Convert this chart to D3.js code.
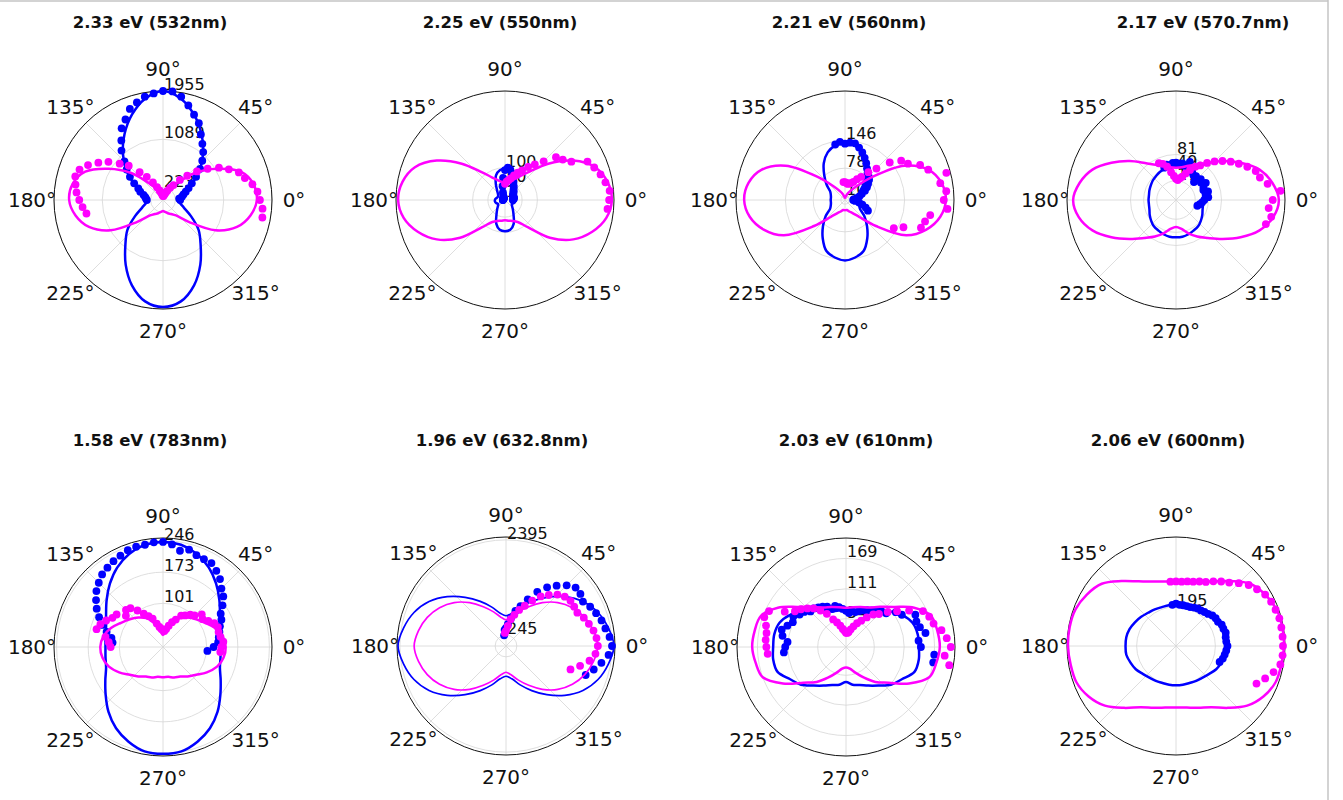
<!DOCTYPE html>
<html>
<head>
<meta charset="utf-8">
<script src="https://cdn.jsdelivr.net/npm/d3@7"></script>
<style>
  body { margin: 0; background: #fff; }
  svg { display: block; }
</style>
</head>
<body>
<svg id="chart" width="1343" height="800"></svg>
<script>
// panel titles, top row left to right, then bottom row
var titles = ["2.33 eV (532nm)", "2.25 eV (550nm)", "2.21 eV (560nm)", "2.17 eV (570.7nm)",
              "1.58 eV (783nm)", "1.96 eV (632.8nm)", "2.03 eV (610nm)", "2.06 eV (600nm)"];

// radial axis of each panel
var rTicks = [[223, 1089, 1955], [1, 50, 100], [10, 78, 146], [17, 49, 81],
              [101, 173, 246], [245, 2395], [54, 111, 169], [195]];
var rMin = [0, -6, 0, -30, 0, 0, 0, 0];
var rMax = [1955, 351, 267, 236, 252, 2460, 208, 540];

// angles (deg) of the fitted curves
var fitAngles = [0, 10, 20, 30, 40, 50, 60, 70, 80, 90, 100, 110, 120, 130, 140, 150, 160, 170,
                 180, 190, 200, 210, 220, 230, 240, 250, 260, 270, 280, 290, 300, 310, 320, 330, 340, 350];

// fitted curves, blue
var blueFit = [
  [272,326,434,615,869,1122,1376,1629,1846,1955,1846,1629,1376,1122,869,615,434,326,272,308,398,579,833,1050,1339,1629,1846,1919,1846,1629,1339,1050,833,579,398,308],
  [27,24,20,20,24,34,54,80,93,96,93,80,54,34,24,20,20,24,27,27,24,20,24,34,50,77,93,96,93,77,50,34,24,20,24,27],
  [35,35,37,42,59,79,104,124,136,141,136,124,104,79,59,42,37,35,35,35,37,42,62,84,109,133,143,148,143,133,109,84,62,42,37,35],
  [37,37,39,41,44,46,49,51,51,51,51,51,49,46,44,41,39,37,37,37,39,44,49,54,56,59,61,61,61,59,56,54,49,44,39,37],
  [133,135,140,152,170,191,212,229,240,243,240,229,212,191,170,152,140,135,133,135,140,154,173,196,217,233,245,247,245,233,217,196,173,154,140,135],
  [2437,2346,2210,2005,1731,1435,1162,934,752,683,752,934,1162,1435,1731,2005,2210,2346,2437,2346,2210,2005,1731,1435,1162,934,752,683,752,934,1162,1435,1731,2005,2210,2346],
  [139,139,135,123,106,91,81,73,71,71,71,73,81,91,106,123,135,139,139,141,139,123,112,96,85,77,73,67,73,77,85,96,112,123,139,141],
  [250,250,245,235,225,215,210,205,205,205,205,205,210,215,225,235,245,250,250,250,240,230,215,205,200,195,195,195,195,195,200,205,215,230,240,250]
];

// fitted curves, magenta
var magFit = [
  [1683,1647,1484,1122,760,398,217,127,72,54,72,127,217,398,760,1122,1484,1647,1683,1593,1412,1086,615,362,290,253,217,199,217,253,290,362,615,1086,1412,1593],
  [344,335,308,252,179,113,80,63,54,50,54,63,80,113,179,252,308,335,344,331,298,252,186,110,77,67,63,60,63,67,77,110,186,252,298,331],
  [247,240,217,168,89,44,25,15,7,5,7,15,25,44,89,168,217,240,247,237,212,173,99,54,37,30,25,25,25,30,37,54,99,173,212,237],
  [221,209,187,152,118,88,69,59,51,49,51,59,69,88,118,152,187,209,221,211,187,152,118,91,73,56,41,36,41,56,73,91,118,152,187,211],
  [145,140,128,112,100,89,77,58,37,28,37,58,77,89,100,112,128,140,145,142,133,117,100,89,79,75,70,70,70,75,79,89,100,117,133,142],
  [2073,2005,1891,1731,1526,1276,1025,820,661,592,661,820,1025,1276,1526,1731,1891,2005,2073,2005,1891,1731,1526,1276,1025,820,661,592,661,820,1025,1276,1526,1731,1891,2005],
  [179,177,173,150,119,100,87,81,77,75,77,81,87,100,119,150,173,177,179,175,169,139,106,87,67,52,42,39,42,52,67,87,106,139,169,175],
  [535,535,530,510,480,420,370,340,325,320,325,340,370,420,480,510,530,535,535,530,525,500,460,400,350,325,310,305,310,325,350,400,460,500,525,530]
];

// measured points, every 5 deg from the start angle
var dotStep = 5;
var blueStart = [0, 0, -25, -15, -5, -20, -10, -20];
var magStart = [-10, -5, -30, -15, -5, -20, -10, -25];

var blueDots = [
  [308,290,344,380,434,507,597,724,869,996,1122,1231,1358,1520,1629,1756,1882,1955,1955,1919,1882,1810,1738,1593,1484,1303,1158,977,851,724,597,489,434,362,326,308,290],
  [20,20,24,24,24,24,24,27,30,34,37,44,50,60,73,83,95,100,92,67,40,20,11,4,1,1,1,1,1,1,1,1,1,1,1,1,1],
  [62,54,44,35,25,20,22,30,37,44,54,62,69,77,82,86,94,104,114,124,133,141,141,138,143,138],
  [24,29,34,39,49,44,51,41,44,54,44,49,32,46,44,49,54,69,56,61,59,61,61,56,59,54],
  [103,117,128,131,135,140,149,154,168,182,191,205,215,224,224,226,233,226,238,243,243,240,240,238,233,229,224,219,210,201,189,177,163,149,135,121,117],
  [1914,2050,2187,2324,2392,2346,2278,2232,2164,2096,2005,2050,2050,1936,1777,1617,1412,1162,957,820,638,501,410,364,245],
  [169,169,143,139,154,146,143,146,123,116,100,96,92,85,81,77,73,69,69,65,69,73,77,81,77,85,89,92,96,96,104,108,116,112,119,127,123,112,116,119],
  [230,240,245,250,255,250,250,255,250,250,240,240,235,225,220,215,215,210,205,205,205,205,210,205]
];

var magDots = [
  [1810,1792,1738,1701,1629,1520,1448,1303,1158,977,796,615,471,326,253,181,145,109,91,72,72,91,109,145,181,253,362,507,652,869,1014,1195,1339,1484,1593,1629,1593,1557,1502,1448,1394],
  [331,335,338,328,318,305,292,245,225,212,173,146,126,106,93,80,67,60,54,47],
  [138,158,198,203,212,252,242,249,237,257,217,203,178,168,143,109,89,69,59,49,44,42,40,42,44,44],
  [197,206,197,206,226,197,182,177,162,147,133,118,103,88,73,64,51,39,29,24,19,22,29,39,54,64,69],
  [133,135,140,135,133,135,131,121,112,117,103,98,89,84,70,61,51,42,37,40,42,47,56,70,79,89,103,117,121,112,131,135,145,154,159,135,126,121],
  [1549,1731,1914,2027,2073,2050,2005,1936,1868,1777,1777,1777,1731,1640,1503,1367,1185,1002,866,729,615,456,342,296],
  [200,189,200,193,185,173,169,162,139,119,104,89,81,69,58,50,42,35,29,27,27,31,35,42,50,58,73,85,96,104,112,119,135,162,166,158,154,154,152,150],
  [440,470,500,525,530,530,530,530,530,525,520,510,490,470,440,410,390,370,350,340,330,325,320,320,320]
];

// layout
var centerX = [163, 505, 845, 1176, 163, 506, 846, 1176];
var centerY = [200, 200, 200, 200, 647, 646, 647, 646];
var titleX = [150, 500, 849, 1203, 150, 502, 856, 1168];
var titleY = [22, 22, 22, 22, 440, 440, 440, 440];
var lineW = [2.5, 2.5, 2.5, 2.5, 2.5, 1.7, 2.5, 2.5];
var R = 109;
var spokes = [0, 45, 90, 135, 180, 225, 270, 315];
var BLUE = "#0000ff", MAGENTA = "#ff00ff";

var svg = d3.select("#chart");
var rad = Math.PI / 180;

// frame of the original picture
svg.append("line").attr("x1", 0).attr("x2", 1328).attr("y1", 1).attr("y2", 1)
    .attr("stroke", "#c4c4c4").attr("stroke-width", 1.5);
svg.append("line").attr("x1", 1328).attr("x2", 1328).attr("y1", 0).attr("y2", 800)
    .attr("stroke", "#c4c4c4").attr("stroke-width", 1.5);

titles.forEach(function(title, i) {

    svg.append("text")
        .attr("x", titleX[i])
        .attr("y", titleY[i])
        .attr("text-anchor", "middle")
        .attr("dominant-baseline", "central")
        .attr("font-family", "DejaVu Sans")
        .attr("font-weight", "bold")
        .attr("font-size", "16.5px")
        .attr("fill", "#111")
        .text(title);

    var g = svg.append("g")
        .attr("transform", "translate(" + centerX[i] + "," + centerY[i] + ")");

    var r = d3.scaleLinear().domain([rMin[i], rMax[i]]).range([0, R]);

    // grid
    g.selectAll("line.spoke")
        .data(spokes)
        .enter()
        .append("line")
        .attr("x1", 0).attr("y1", 0)
        .attr("x2", function(d) { return R * Math.cos(d * rad); })
        .attr("y2", function(d) { return -R * Math.sin(d * rad); })
        .attr("stroke", "#d6d6d6")
        .attr("stroke-width", 0.8);

    g.selectAll("circle.grid")
        .data(rTicks[i])
        .enter()
        .append("circle")
        .attr("r", function(d) { return r(d); })
        .attr("fill", "none")
        .attr("stroke", "#d6d6d6")
        .attr("stroke-width", 0.8);

    g.append("circle")
        .attr("r", R)
        .attr("fill", "none")
        .attr("stroke", "#111")
        .attr("stroke-width", 1);

    // angle labels
    g.selectAll("text.theta")
        .data(spokes)
        .enter()
        .append("text")
        .attr("x", function(d) { return (R + 22) * Math.cos(d * rad); })
        .attr("y", function(d) { return -(R + 22) * Math.sin(d * rad); })
        .attr("text-anchor", "middle")
        .attr("dominant-baseline", "central")
        .attr("font-family", "DejaVu Sans")
        .attr("font-size", "20px")
        .attr("fill", "#111")
        .text(function(d) { return d + "°"; });

    // radial labels
    g.selectAll("text.rlab")
        .data(rTicks[i])
        .enter()
        .append("text")
        .attr("x", 1)
        .attr("y", function(d) { return -r(d) - 1; })
        .attr("font-family", "DejaVu Sans")
        .attr("font-size", "16px")
        .attr("fill", "#111")
        .text(function(d) { return d; });

    var radial = d3.lineRadial()
        .angle(function(d) { return (90 - d[0]) * rad; })
        .radius(function(d) { return r(d[1]); })
        .curve(d3.curveCatmullRomClosed.alpha(0.5));

    function fitPts(vals) {
        return fitAngles.map(function(a, k) { return [a, vals[k]]; });
    }
    function dotPts(vals, start) {
        return vals.map(function(v, k) { return [start + k * dotStep, v]; });
    }

    function drawFit(vals, color) {
        g.append("path")
            .datum(fitPts(vals))
            .attr("d", radial)
            .attr("fill", "none")
            .attr("stroke", color)
            .attr("stroke-width", lineW[i]);
    }
    function drawDots(vals, start, color) {
        g.append("g").selectAll("circle")
            .data(dotPts(vals, start))
            .enter()
            .append("circle")
            .attr("cx", function(d) { return r(d[1]) * Math.cos(d[0] * rad); })
            .attr("cy", function(d) { return -r(d[1]) * Math.sin(d[0] * rad); })
            .attr("r", 3.9)
            .attr("fill", color);
    }

    drawFit(blueFit[i], BLUE);
    drawDots(blueDots[i], blueStart[i], BLUE);
    drawFit(magFit[i], MAGENTA);
    drawDots(magDots[i], magStart[i], MAGENTA);
});
</script>
</body>
</html>
